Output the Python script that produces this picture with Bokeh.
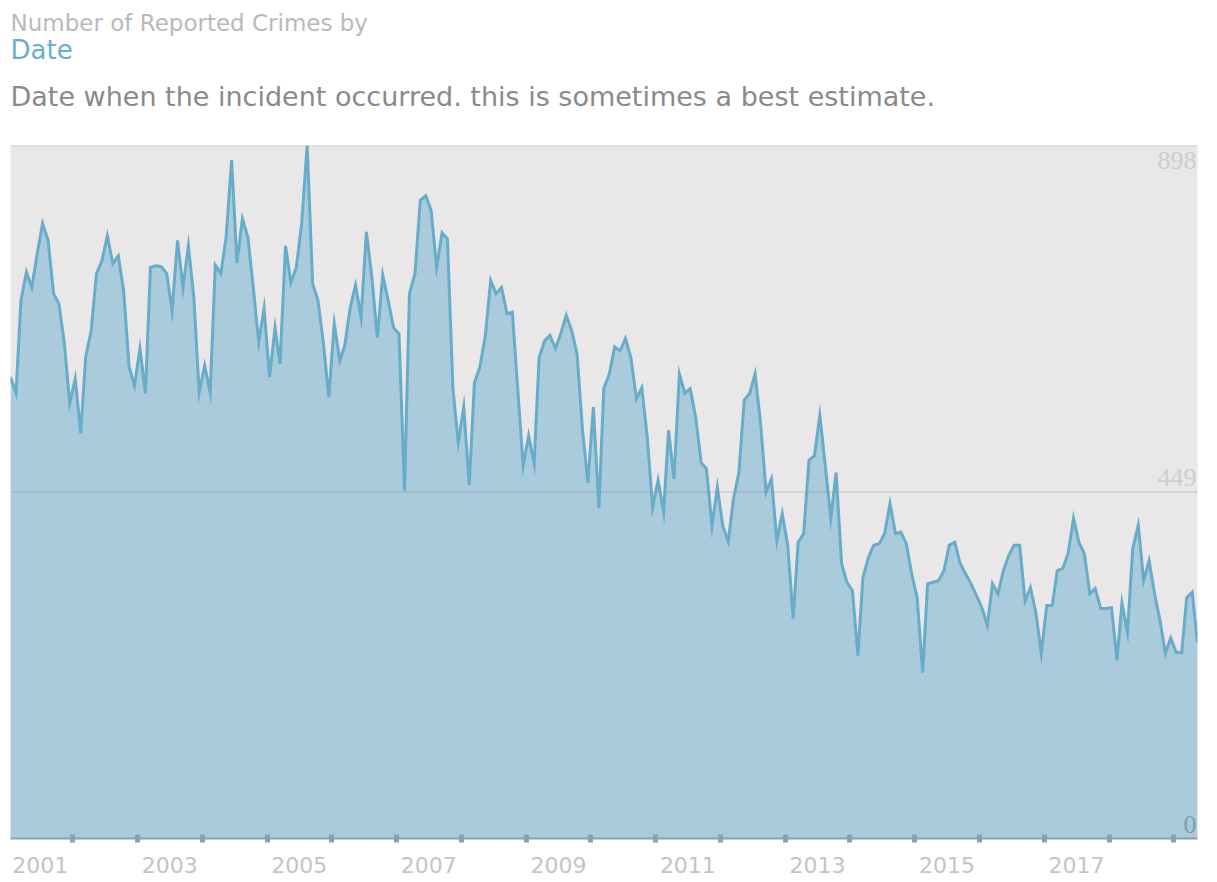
import pandas as pd
from bokeh.plotting import figure
from bokeh.models import Range1d, FixedTicker, Span, Title, ColumnDataSource
from bokeh.embed import file_html
from bokeh.resources import INLINE

# Monthly counts of reported crimes, starting January 2001 (plotted mid-month)
start_month = "2001-01-01"
crime_counts = [
    598, 577, 697, 734, 714, 758, 797, 775, 706, 693, 641, 564,
    596, 525, 624, 658, 732, 749, 781, 745, 755, 710, 611, 587,
    635, 577, 740, 742, 741, 732, 684, 775, 714, 768, 701, 578,
    613, 578, 743, 732, 779, 879, 746, 803, 779, 714, 643, 687,
    598, 662, 615, 768, 720, 740, 797, 898, 719, 697, 641, 572,
    667, 619, 639, 688, 717, 675, 786, 727, 649, 730, 697, 662,
    654, 451, 706, 732, 827, 833, 814, 740, 785, 777, 583, 513,
    559, 458, 590, 611, 650, 723, 706, 714, 680, 682, 581, 483,
    522, 486, 623, 645, 652, 635, 654, 678, 658, 628, 529, 461,
    559, 428, 583, 602, 637, 632, 648, 623, 570, 584, 520, 429,
    464, 423, 529, 466, 602, 577, 583, 546, 487, 479, 405, 455,
    405, 385, 440, 475, 568, 577, 602, 538, 449, 466, 386, 421,
    380, 285, 384, 395, 490, 496, 548, 483, 415, 474, 356, 332,
    321, 237, 338, 364, 380, 382, 395, 434, 395, 397, 382, 343,
    312, 215, 330, 332, 334, 347, 380, 384, 356, 343, 330, 315,
    299, 276, 330, 317, 347, 367, 380, 380, 308, 325, 292, 240,
    302, 302, 347, 350, 369, 415, 384, 369, 317, 324, 298, 298,
    299, 231, 305, 267, 376, 406, 334, 360, 317, 283, 240, 260,
    241, 241, 312, 319, 253,
]

# Value labels shown at the right edge
y_ticks = [0, 449, 898]
y_tick_labels = ["0", "449", "898"]

# Year labels (every other year, centred on the year) and year boundaries
label_years = list(range(2001, 2019, 2))
boundary_years = list(range(2002, 2020))

dates = (pd.date_range(start_month, periods=len(crime_counts), freq="MS")
         + pd.Timedelta(days=14))
source = ColumnDataSource(dict(date=dates, count=crime_counts))


def to_ms(ts):
    return pd.Timestamp(ts).value // 10**6


label_ticks = [to_ms(f"{y}-07-02") for y in label_years]
boundary_ticks = [to_ms(f"{y}-01-01") for y in boundary_years]

LINE = "#67adca"
FILL = "#a9cbdc"
AXIS = "#8c9fae"
FONT = "DejaVu Sans"

p = figure(
    width=1217, height=882,
    x_axis_type="datetime", y_axis_location=None,
    x_range=Range1d(dates[0], dates[-1]),
    y_range=Range1d(0, max(crime_counts)),
    output_backend="svg", toolbar_location=None,
    background_fill_color="#e9e7e7", border_fill_color="white",
    outline_line_color=None,
    min_border_left=10, min_border_right=20,
    min_border_top=145, min_border_bottom=44,
)
p.xgrid.visible = False
p.ygrid.visible = False

# Area under the series and its outline
p.varea(x="date", y1=0, y2="count", source=source, fill_color=FILL)
p.line(x="date", y="count", source=source, line_color=LINE, line_width=3,
       line_join="miter")

# Horizontal reference lines at the labelled values
for v in y_ticks[1:]:
    p.add_layout(Span(location=v, dimension="width", line_color="#8a8a8a",
                      line_alpha=0.3, line_width=1.5))

# Value labels inside the plot on the right
top = max(y_ticks)
lab_src = ColumnDataSource(dict(
    x=[dates[-1]] * len(y_ticks),
    y=y_ticks,
    text=y_tick_labels,
    baseline=["top" if v == top else "bottom" for v in y_ticks],
    dy=[6 if v == top else -6 for v in y_ticks],
    color=["#7f9db0" if v == 0 else "#cdcdcd" for v in y_ticks],
))
p.text(x="x", y="y", text="text", source=lab_src, text_align="right",
       text_baseline="baseline", y_offset="dy", x_offset=-1,
       text_color="color", text_font_size="26px", text_font=FONT)

# Bottom axis: year labels at mid-year, square markers at year boundaries
ax = p.xaxis[0]
ax.ticker = FixedTicker(ticks=label_ticks, minor_ticks=boundary_ticks)
ax.major_label_overrides = {t: str(y) for t, y in zip(label_ticks, label_years)}
ax.major_tick_line_color = None
ax.major_tick_in = 0
ax.major_tick_out = 0
ax.minor_tick_line_color = AXIS
ax.minor_tick_line_width = 5
ax.minor_tick_in = 4
ax.minor_tick_out = 4
ax.axis_line_color = AXIS
ax.axis_line_width = 2
ax.major_label_standoff = 14
ax.major_label_text_font = FONT
ax.major_label_text_font_size = "22px"
ax.major_label_text_color = "#c4c4c4"

# Heading block above the plot (added from nearest to farthest);
# the first, blank title only adds space below the description line
p.add_layout(Title(text=" ", text_font_size="1px", standoff=14), "above")
p.add_layout(Title(text="Date when the incident occurred. this is sometimes a best estimate.",
                   text_font=FONT, text_font_size="27px", text_font_style="normal",
                   text_color="#8a8a8a", standoff=33), "above")
p.add_layout(Title(text="Date", text_font=FONT, text_font_size="26px",
                   text_font_style="normal", text_color="#6aaecb", standoff=-4), "above")
p.add_layout(Title(text="Number of Reported Crimes by", text_font=FONT,
                   text_font_size="23px", text_font_style="normal",
                   text_color="#b9b9b9", standoff=-2), "above")

open("out.html", "w").write(file_html(p, INLINE))
